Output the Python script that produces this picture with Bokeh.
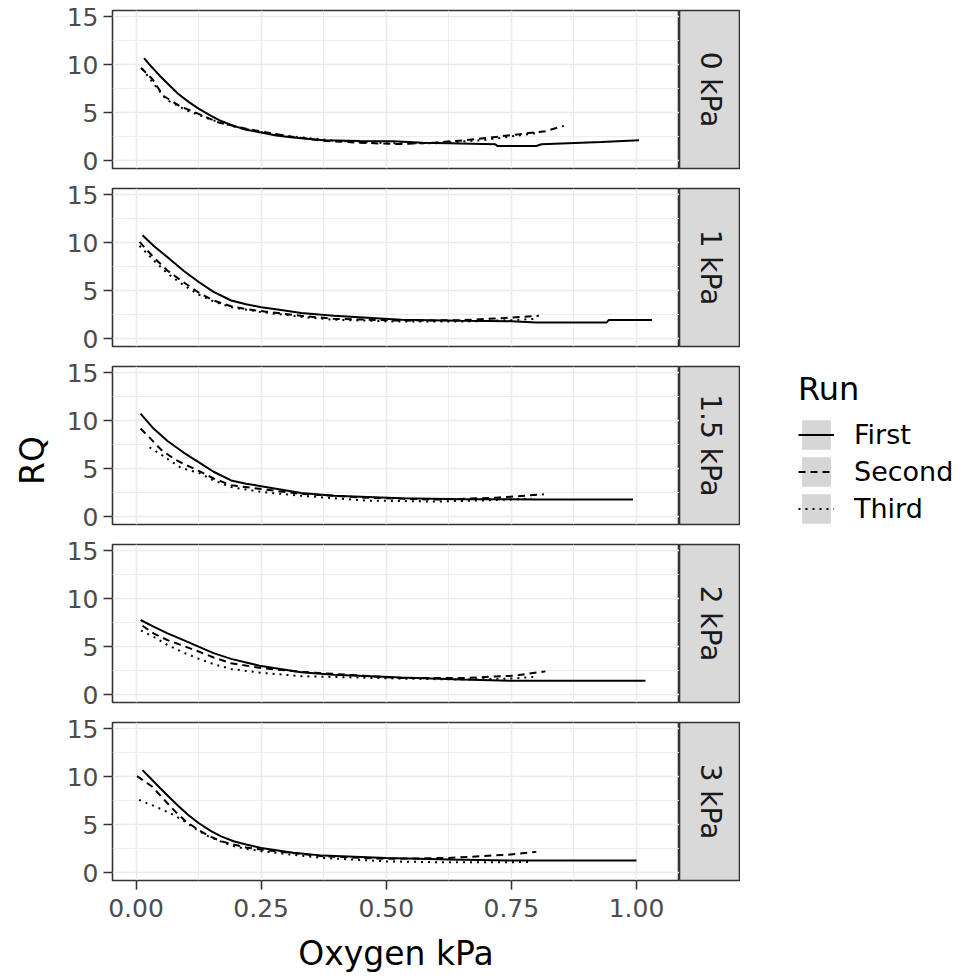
import math
from bokeh.plotting import figure
from bokeh.layouts import row, column
from bokeh.models import Range1d, FixedTicker, PrintfTickFormatter, Legend, LegendItem, Grid
from bokeh.embed import file_html
from bokeh.resources import INLINE
from bokeh.core.properties import value

FONT = "DejaVu Sans"

# ---------------- data ----------------
pressures = ["0 kPa", "1 kPa", "1.5 kPa", "2 kPa", "3 kPa"]
runs = ["First", "Second", "Third"]
x_ticks = [0.0, 0.25, 0.5, 0.75, 1.0]
x_minor = [0.125, 0.375, 0.625, 0.875]
y_ticks = [0, 5, 10, 15]
y_minor = [2.5, 7.5, 12.5]

# 0 kPa
o2_0_first = [0.016, 0.03, 0.047, 0.065, 0.084, 0.105, 0.125, 0.15, 0.17, 0.195, 0.22, 0.25, 0.28, 0.314, 0.375, 0.447, 0.514, 0.573, 0.625, 0.718, 0.722, 0.80, 0.81, 0.93, 1.005]
rq_0_first = [10.7, 9.85, 8.9, 7.95, 7.0, 6.15, 5.45, 4.7, 4.15, 3.65, 3.25, 2.95, 2.65, 2.43, 2.15, 2.08, 2.05, 1.9, 1.84, 1.74, 1.55, 1.55, 1.74, 1.98, 2.15]
o2_0_second = [0.01, 0.033, 0.054, 0.0875, 0.125, 0.165, 0.225, 0.3, 0.373, 0.447, 0.52, 0.596, 0.655, 0.707, 0.766, 0.818, 0.855]
rq_0_second = [9.7, 8.5, 6.8, 5.7, 4.9, 4.0, 3.3, 2.6, 2.1, 1.9, 1.75, 1.9, 2.15, 2.43, 2.78, 3.1, 3.65]
o2_0_third = [0.012, 0.03, 0.06, 0.1, 0.15, 0.2, 0.25, 0.3, 0.4, 0.5, 0.6, 0.7, 0.8]
rq_0_third = [9.6, 8.4, 6.4, 5.3, 4.3, 3.5, 3.0, 2.6, 2.1, 1.85, 1.85, 2.2, 2.9]

# 1 kPa
o2_1_first = [0.013, 0.035, 0.063, 0.095, 0.126, 0.155, 0.19, 0.22, 0.25, 0.29, 0.33, 0.395, 0.53, 0.65, 0.75, 0.80, 0.94, 0.945, 1.031]
rq_1_first = [10.8, 9.7, 8.5, 7.1, 5.9, 4.9, 4.0, 3.6, 3.3, 3.0, 2.7, 2.4, 2.0, 1.9, 1.85, 1.7, 1.7, 1.98, 1.98]
o2_1_second = [0.007, 0.035, 0.063, 0.095, 0.126, 0.155, 0.19, 0.22, 0.25, 0.33, 0.395, 0.53, 0.65, 0.73, 0.805]
rq_1_second = [10.1, 8.5, 7.1, 5.9, 4.8, 4.0, 3.4, 3.1, 2.9, 2.4, 2.1, 1.9, 1.95, 2.15, 2.4]
o2_1_third = [0.007, 0.035, 0.063, 0.095, 0.126, 0.155, 0.19, 0.25, 0.33, 0.395, 0.53, 0.65, 0.75, 0.80]
rq_1_third = [9.7, 8.2, 6.8, 5.6, 4.6, 3.9, 3.3, 2.8, 2.3, 2.0, 1.8, 1.8, 1.95, 2.1]

# 1.5 kPa
o2_15_first = [0.009, 0.035, 0.063, 0.095, 0.125, 0.155, 0.19, 0.22, 0.25, 0.33, 0.395, 0.53, 0.65, 0.8, 0.993]
rq_15_first = [10.75, 9.2, 7.9, 6.7, 5.7, 4.7, 3.8, 3.45, 3.2, 2.5, 2.2, 1.95, 1.85, 1.82, 1.82]
o2_15_second = [0.009, 0.03, 0.05, 0.077, 0.1, 0.125, 0.155, 0.19, 0.25, 0.33, 0.46, 0.6, 0.72, 0.815]
rq_15_second = [9.2, 8.1, 7.0, 6.0, 5.4, 4.8, 4.0, 3.3, 2.9, 2.4, 2.0, 1.8, 2.0, 2.35]
o2_15_third = [0.027, 0.05, 0.09, 0.125, 0.155, 0.19, 0.25, 0.33, 0.46, 0.6, 0.72, 0.79]
rq_15_third = [7.25, 6.5, 5.1, 4.6, 3.8, 3.1, 2.6, 2.2, 1.7, 1.6, 1.75, 1.9]

# 2 kPa
o2_2_first = [0.009, 0.035, 0.063, 0.095, 0.126, 0.155, 0.19, 0.25, 0.33, 0.395, 0.53, 0.65, 0.755, 1.018]
rq_2_first = [7.8, 7.1, 6.4, 5.7, 5.0, 4.35, 3.75, 3.0, 2.35, 2.1, 1.8, 1.6, 1.47, 1.47]
o2_2_second = [0.013, 0.035, 0.063, 0.095, 0.126, 0.155, 0.19, 0.25, 0.33, 0.53, 0.65, 0.755, 0.818]
rq_2_second = [7.2, 6.4, 5.7, 5.1, 4.5, 3.9, 3.3, 2.8, 2.4, 1.75, 1.75, 2.0, 2.45]
o2_2_third = [0.01, 0.037, 0.063, 0.095, 0.126, 0.155, 0.19, 0.25, 0.33, 0.53, 0.65, 0.75, 0.80]
rq_2_third = [6.7, 6.0, 5.2, 4.4, 3.75, 3.2, 2.7, 2.3, 1.95, 1.7, 1.6, 1.7, 1.9]

# 3 kPa
o2_3_first = [0.013, 0.03, 0.047, 0.065, 0.084, 0.105, 0.125, 0.15, 0.17, 0.195, 0.22, 0.25, 0.314, 0.373, 0.5, 0.625, 0.744, 1.0]
rq_3_first = [10.7, 9.8, 8.9, 7.95, 7.0, 6.0, 5.2, 4.35, 3.8, 3.3, 2.95, 2.6, 2.1, 1.8, 1.56, 1.39, 1.28, 1.28]
o2_3_second = [0.002, 0.032, 0.062, 0.08, 0.099, 0.125, 0.15, 0.17, 0.195, 0.22, 0.25, 0.373, 0.5, 0.625, 0.744, 0.8]
rq_3_second = [10.07, 9.0, 7.3, 6.3, 5.4, 4.45, 3.75, 3.3, 2.95, 2.65, 2.43, 1.74, 1.46, 1.56, 1.9, 2.19]
o2_3_third = [0.006, 0.039, 0.069, 0.099, 0.12, 0.143, 0.17, 0.195, 0.22, 0.25, 0.373, 0.5, 0.625, 0.744, 0.79]
rq_3_third = [7.6, 6.9, 6.2, 5.3, 4.55, 3.85, 3.25, 2.8, 2.5, 2.26, 1.56, 1.2, 1.1, 1.1, 1.15]

series = [
    [(o2_0_first, rq_0_first), (o2_0_second, rq_0_second), (o2_0_third, rq_0_third)],
    [(o2_1_first, rq_1_first), (o2_1_second, rq_1_second), (o2_1_third, rq_1_third)],
    [(o2_15_first, rq_15_first), (o2_15_second, rq_15_second), (o2_15_third, rq_15_third)],
    [(o2_2_first, rq_2_first), (o2_2_second, rq_2_second), (o2_2_third, rq_2_third)],
    [(o2_3_first, rq_3_first), (o2_3_second, rq_3_second), (o2_3_third, rq_3_third)],
]

# ---------------- styles ----------------
DASHES = ["solid", "7 5", "2 5"]
LINE_W = 2
X_RANGE = (-0.047, 1.086)
Y_RANGE = (-0.79, 15.66)
GRID_C = "#EBEBEB"
BORDER_C = "#333333"
TICK_FS = "25px"
STRIP_FS = "28px"
TITLE_FS = "33px"

PANEL_H = 178
BOTTOM_EXTRA = 88
RQ_W = 56


def make_panel(i, bottom):
    h = PANEL_H + (BOTTOM_EXTRA if bottom else 0)
    p = figure(width=679 - RQ_W, height=h,
               x_range=Range1d(*X_RANGE), y_range=Range1d(*Y_RANGE),
               output_backend="svg", toolbar_location=None,
               min_border_left=112 - RQ_W, min_border_right=0, min_border_top=10,
               min_border_bottom=(10 + BOTTOM_EXTRA) if bottom else 10,
               x_axis_location="below" if bottom else None,
               background_fill_color="white", border_fill_color="white")
    p.outline_line_color = BORDER_C
    p.outline_line_width = 1.6
    for g in list(p.center):
        if isinstance(g, Grid):
            p.center.remove(g)
    for dim, tk, mn in ((0, x_ticks, x_minor), (1, y_ticks, y_minor)):
        g = Grid(dimension=dim, ticker=FixedTicker(ticks=tk, minor_ticks=mn))
        g.grid_line_color = GRID_C
        g.grid_line_width = 1.6
        g.minor_grid_line_color = GRID_C
        g.minor_grid_line_width = 0.9
        p.add_layout(g, "center")
    ya = p.yaxis[0]
    ya.ticker = FixedTicker(ticks=y_ticks)
    ya.axis_line_color = None
    ya.major_tick_line_color = BORDER_C
    ya.major_tick_line_width = 1.6
    ya.major_tick_out = 9
    ya.major_tick_in = 0
    ya.minor_tick_line_color = None
    ya.major_label_text_font = FONT
    ya.major_label_text_font_size = TICK_FS
    ya.major_label_text_color = "#4D4D4D"
    ya.major_label_standoff = 5
    if bottom:
        xa = p.xaxis[0]
        xa.ticker = FixedTicker(ticks=x_ticks)
        xa.formatter = PrintfTickFormatter(format="%.2f")
        xa.axis_line_color = None
        xa.major_tick_line_color = BORDER_C
        xa.major_tick_line_width = 1.6
        xa.major_tick_out = 9
        xa.major_tick_in = 0
        xa.minor_tick_line_color = None
        xa.major_label_text_font = FONT
        xa.major_label_text_font_size = TICK_FS
        xa.major_label_text_color = "#4D4D4D"
        xa.major_label_standoff = 9
        xa.axis_label = "Oxygen kPa"
        xa.axis_label_text_font = FONT
        xa.axis_label_text_font_size = TITLE_FS
        xa.axis_label_text_font_style = "normal"
        xa.axis_label_text_color = "black"
        xa.axis_label_standoff = 14
    for (xs, ys), dash in zip(series[i], DASHES):
        p.line(xs, ys, line_color="black", line_width=LINE_W, line_dash=dash)
    return p


def make_strip(i, bottom):
    h = PANEL_H + (BOTTOM_EXTRA if bottom else 0)
    s = figure(width=61, height=h, x_range=Range1d(0, 1), y_range=Range1d(0, 1),
               output_backend="svg", toolbar_location=None,
               min_border_left=0, min_border_right=0, min_border_top=10,
               min_border_bottom=(10 + BOTTOM_EXTRA) if bottom else 10,
               x_axis_location=None, y_axis_location=None,
               background_fill_color="#D9D9D9", border_fill_color="white")
    s.grid.visible = False
    s.outline_line_color = BORDER_C
    s.outline_line_width = 1.6
    s.text(x=[0.5], y=[0.5], text=[pressures[i]], angle=-math.pi / 2,
           text_align="center", text_baseline="middle",
           text_font=value(FONT), text_font_size=STRIP_FS, text_color="#1A1A1A")
    return s


rows = []
for i in range(len(pressures)):
    bottom = i == len(pressures) - 1
    rows.append(row(make_panel(i, bottom), make_strip(i, bottom)))
panels_col = column(*rows)

# y title
total_h = PANEL_H * len(pressures) + BOTTOM_EXTRA
rq = figure(width=RQ_W, height=total_h, x_range=Range1d(0, RQ_W), y_range=Range1d(total_h, 0),
            output_backend="svg", toolbar_location=None, min_border=0,
            x_axis_location=None, y_axis_location=None, outline_line_color=None)
rq.grid.visible = False
rq.text(x=[32], y=[460], text=["RQ"], angle=math.pi / 2, text_align="center",
        text_baseline="middle", text_font=value(FONT), text_font_size=TITLE_FS,
        text_color="black")

# legend (keys drawn by dummy renderers placed outside the visible range)
lg = figure(width=225, height=total_h, x_range=Range1d(0, 1), y_range=Range1d(0, 1),
            output_backend="svg", toolbar_location=None, min_border=0,
            x_axis_location=None, y_axis_location=None, outline_line_color=None)
lg.grid.visible = False
items = []
for name, dash in zip(runs, DASHES):
    band = lg.varea(x=[-3, -2], y1=[-3, -3], y2=[-2, -2], fill_color="#999999", fill_alpha=0.4)
    ln = lg.line(x=[-3, -2], y=[-3, -3], line_color="black", line_width=LINE_W, line_dash=dash)
    items.append(LegendItem(label=name, renderers=[band, ln]))
legend = Legend(items=items, title="Run", location=(58, 451), orientation="vertical",
                spacing=0, padding=0, margin=0, glyph_width=36, glyph_height=37,
                label_height=37, label_standoff=20, title_standoff=8,
                border_line_color=None, background_fill_alpha=0,
                title_text_font=FONT, title_text_font_size="32px", title_text_font_style="normal",
                title_text_color="black",
                label_text_font=FONT, label_text_font_size="27px", label_text_color="black")
lg.add_layout(legend, "center")

layout = row(rq, panels_col, lg)

with open("out.html", "w") as f:
    f.write(file_html(layout, INLINE))
